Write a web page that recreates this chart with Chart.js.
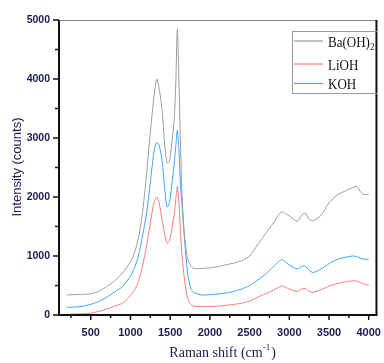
<!DOCTYPE html>
<html><head><meta charset="utf-8">
<script src="https://cdn.jsdelivr.net/npm/chart.js@4.4.1/dist/chart.umd.min.js"></script>
<style>html,body{margin:0;padding:0;background:#fff}#wrap{width:384px;height:363px}</style>
</head><body><div id="wrap"><canvas id="c" width="384" height="363"></canvas></div>
<script>
const wavenumbers = [200,300,400,500,600,700,800,900,1000,1050,1100,1150,1200,1250,1280,1300,1330,1360,1400,1430,1460,1490,1520,1550,1570,1590,1610,1630,1650,1680,1720,1760,1800,1900,2000,2100,2200,2300,2400,2500,2600,2700,2800,2900,2950,3000,3100,3150,3200,3250,3300,3400,3500,3600,3700,3800,3850,3900,3950,4000];
const baOH2 = [340,345,350,360,400,480,580,710,900,1050,1300,1720,2350,3100,3500,3750,4000,3850,3450,2900,2580,2600,2900,3300,3900,4850,4000,2900,2000,1350,950,830,790,790,800,820,850,880,920,1000,1190,1380,1560,1750,1720,1680,1590,1680,1730,1620,1600,1690,1900,2030,2100,2160,2180,2080,2040,2050];
const liOH = [10,15,20,30,60,100,150,200,330,420,570,820,1150,1550,1800,1920,2000,1900,1600,1380,1220,1250,1450,1700,1950,2180,1900,1400,1000,600,280,180,150,140,145,150,165,180,200,235,300,360,420,490,470,440,400,440,450,400,385,430,490,530,560,580,575,550,520,510];
const kOH = [130,135,150,180,230,300,390,480,660,800,1000,1330,1700,2250,2600,2800,2920,2880,2600,2150,1830,1900,2200,2550,2850,3130,2800,2200,1850,1300,700,450,380,340,345,355,375,400,440,500,590,690,820,940,900,850,780,820,830,760,720,780,870,940,975,1000,990,960,945,945];
const seriesLabels = ['Ba(OH)\u2082','LiOH','KOH'];
const xTicks = [500,1000,1500,2000,2500,3000,3500,4000];
const yTicks = [0,1000,2000,3000,4000,5000];
const colors = ['#9c9c9c','#ff7b7b','#3ea4ff'];
const txt = '#1c1c52';

function pts(v){return wavenumbers.map((x,i)=>({x:x,y:v[i]}));}

const decor = {
  id:'decor',
  afterDraw(chart){
    const ctx=chart.ctx, a=chart.chartArea, xs=chart.scales.x, ys=chart.scales.y;
    ctx.save();
    ctx.strokeStyle='#888'; ctx.lineWidth=1;
    ctx.beginPath(); ctx.moveTo(a.left,a.top+0.5); ctx.lineTo(a.right,a.top+0.5); ctx.stroke();
    ctx.strokeStyle='#111'; ctx.lineWidth=2;
    ctx.beginPath(); ctx.moveTo(a.right-1,a.top); ctx.lineTo(a.right-1,a.bottom); ctx.stroke();
    ctx.beginPath(); ctx.moveTo(a.left,a.top); ctx.lineTo(a.left,a.bottom); ctx.lineTo(a.right,a.bottom); ctx.stroke();
    ctx.lineWidth=1.5;
    for(let v=0; v<=5000; v+=500){
      const y=ys.getPixelForValue(v); const len = v%1000===0?6:4;
      ctx.beginPath(); ctx.moveTo(a.left-len,y); ctx.lineTo(a.left,y); ctx.stroke();
    }
    for(let v=250; v<=4000; v+=250){
      const x=xs.getPixelForValue(v); const len = v%500===0?5:3;
      ctx.beginPath(); ctx.moveTo(x,a.bottom); ctx.lineTo(x,a.bottom+len); ctx.stroke();
    }
    ctx.fillStyle=txt;
    ctx.font='14px "Liberation Serif"'; ctx.textAlign='center'; ctx.textBaseline='middle';
    ctx.fillText('Raman shift (cm', 216, 353);
    const w = ctx.measureText('Raman shift (cm').width;
    ctx.textAlign='left';
    ctx.font='9px "Liberation Serif"'; ctx.fillText('-1', 216+w/2, 348);
    const w2=ctx.measureText('-1').width;
    ctx.font='14px "Liberation Serif"'; ctx.fillText(')', 216+w/2+w2+1, 353);
    ctx.save(); ctx.translate(17,167); ctx.rotate(-Math.PI/2);
    ctx.font='13px "Liberation Sans"'; ctx.textAlign='center'; ctx.fillText('Intensity (counts)',0,0);
    ctx.restore();
    ctx.strokeStyle='#999'; ctx.lineWidth=1;
    ctx.strokeRect(292.5,31.5,85,62);
    chart.data.datasets.forEach((ds,i)=>{
      const y=[41,64,83.5][i];
      ctx.strokeStyle=ds.borderColor; ctx.lineWidth=1.2;
      ctx.beginPath(); ctx.moveTo(294,y); ctx.lineTo(323,y); ctx.stroke();
      ctx.fillStyle='#111'; ctx.textAlign='left'; ctx.textBaseline='middle';
      const parts = ds.label.split('\u2082');
      ctx.save(); ctx.translate(328,y+1.5); ctx.scale(0.84,1);
      ctx.font='15.5px "Liberation Serif"';
      ctx.fillText(parts[0],0,0);
      if(parts.length>1){
        const pw=ctx.measureText(parts[0]).width;
        ctx.font='10px "Liberation Serif"';
        ctx.fillText('2',pw+0.5,5);
      }
      ctx.restore();
    });
    ctx.restore();
  }
};

new Chart(document.getElementById('c'),{
  type:'line',
  data:{datasets:[
    {label:seriesLabels[0],data:pts(baOH2),borderColor:colors[0]},
    {label:seriesLabels[1],data:pts(liOH),borderColor:colors[1]},
    {label:seriesLabels[2],data:pts(kOH),borderColor:colors[2]}
  ].map(d=>Object.assign(d,{borderWidth:1,pointRadius:0,tension:0.25,fill:false}))},
  options:{
    responsive:false,animation:false,
    layout:{padding:{left:0,right:2,top:20,bottom:0}},
    plugins:{legend:{display:false},tooltip:{enabled:false}},
    scales:{
      x:{type:'linear',min:100,max:4110,
        afterFit(s){s.height=48;},
        afterBuildTicks(s){s.ticks=xTicks.map(v=>({value:v}));},
        grid:{display:false,tickLength:8},border:{display:false},
        ticks:{color:txt,font:{family:'Liberation Sans',size:11,weight:'bold'},padding:3,maxRotation:0,autoSkip:false,callback:v=>String(v)}},
      y:{type:'linear',min:0,max:5000,
        afterFit(s){s.width=59;},
        afterBuildTicks(s){s.ticks=yTicks.map(v=>({value:v}));},
        grid:{display:false,tickLength:8},border:{display:false},
        ticks:{color:txt,font:{family:'Liberation Sans',size:10.5,weight:'bold'},padding:1,callback:v=>String(v)}}
    }
  },
  plugins:[decor]
});
</script></body></html>
